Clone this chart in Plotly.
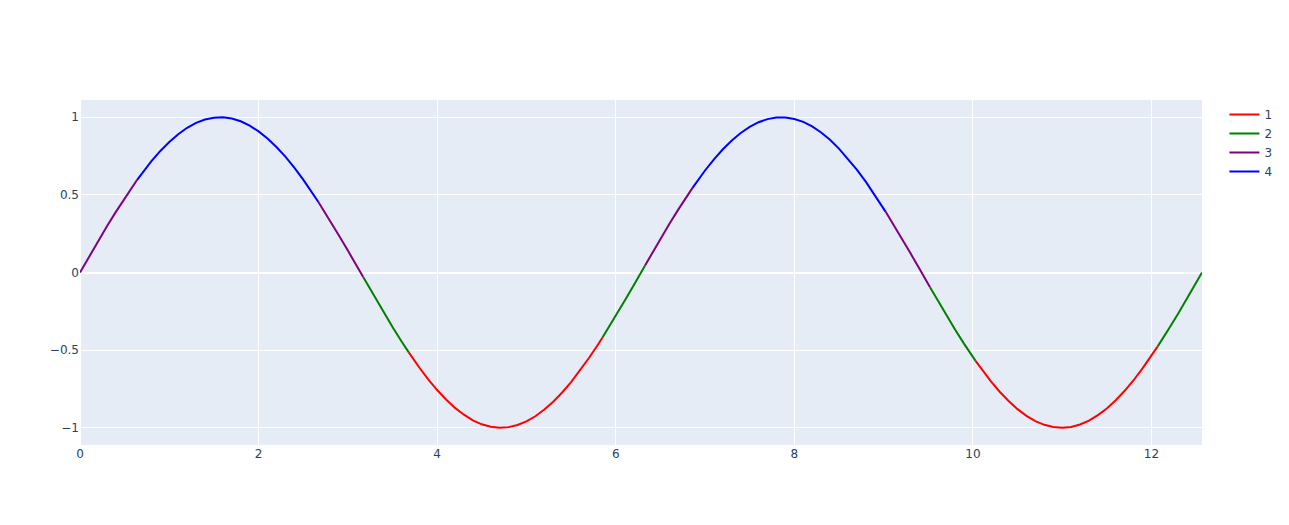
import plotly.graph_objects as go

x_vals = [0.0, 0.1, 0.2, 0.3, 0.4, 0.5, 0.6, 0.64, 0.7, 0.8, 0.9, 1.0, 1.1, 1.2, 1.3, 1.4,
          1.5, 1.6, 1.7, 1.8, 1.9, 2.0, 2.1, 2.2, 2.3, 2.4, 2.5, 2.6, 2.67, 2.7, 2.8, 2.9,
          3.0, 3.1, 3.17, 3.2, 3.3, 3.4, 3.5, 3.6, 3.68, 3.7, 3.8, 3.9, 4.0, 4.1, 4.2, 4.3,
          4.4, 4.5, 4.6, 4.7, 4.8, 4.9, 5.0, 5.1, 5.2, 5.3, 5.4, 5.5, 5.6, 5.7, 5.8, 5.85,
          5.9, 6.0, 6.1, 6.2, 6.3, 6.33, 6.4, 6.5, 6.6, 6.7, 6.8, 6.86, 6.9, 7.0, 7.1, 7.2,
          7.3, 7.4, 7.5, 7.6, 7.7, 7.8, 7.9, 8.0, 8.1, 8.2, 8.3, 8.4, 8.5, 8.6, 8.7, 8.8,
          8.9, 9.0, 9.02, 9.1, 9.2, 9.3, 9.4, 9.5, 9.52, 9.6, 9.7, 9.8, 9.9, 10.0, 10.03,
          10.1, 10.2, 10.3, 10.4, 10.5, 10.6, 10.7, 10.8, 10.9, 11.0, 11.1, 11.2, 11.3, 11.4,
          11.5, 11.6, 11.7, 11.8, 11.9, 12.0, 12.07, 12.1, 12.2, 12.3, 12.4, 12.5, 12.566]
y_vals = [0.0, 0.1, 0.199, 0.296, 0.389, 0.479, 0.565, 0.597, 0.644, 0.717, 0.783, 0.841,
          0.891, 0.932, 0.964, 0.985, 0.997, 1.0, 0.992, 0.974, 0.946, 0.909, 0.863, 0.808,
          0.746, 0.676, 0.598, 0.516, 0.454, 0.427, 0.335, 0.239, 0.141, 0.042, -0.028,
          -0.058, -0.158, -0.256, -0.351, -0.443, -0.513, -0.53, -0.612, -0.688, -0.757,
          -0.818, -0.872, -0.916, -0.952, -0.978, -0.994, -1.0, -0.996, -0.982, -0.959,
          -0.926, -0.883, -0.832, -0.773, -0.706, -0.631, -0.551, -0.465, -0.42, -0.374,
          -0.279, -0.182, -0.083, 0.017, 0.047, 0.117, 0.215, 0.312, 0.405, 0.494, 0.545,
          0.578, 0.657, 0.729, 0.794, 0.85, 0.899, 0.938, 0.968, 0.988, 0.999, 0.999, 0.989,
          0.97, 0.941, 0.902, 0.855, 0.798, 0.734, 0.663, 0.585, 0.501, 0.412, 0.394, 0.319,
          0.223, 0.125, 0.025, -0.075, -0.095, -0.174, -0.272, -0.367, -0.458, -0.544,
          -0.569, -0.625, -0.7, -0.768, -0.828, -0.88, -0.923, -0.957, -0.981, -0.995, -1.0,
          -0.995, -0.979, -0.954, -0.919, -0.876, -0.823, -0.762, -0.694, -0.618, -0.537,
          -0.476, -0.45, -0.358, -0.264, -0.166, -0.066, 0.0]

# Colour segments: category label and x-range of each segment
seg_labels = ["3", "4", "3", "2", "1", "2", "3", "4", "3", "2", "1", "2"]
seg_start = [0, 0.64, 2.67, 3.17, 3.68, 5.85, 6.33, 6.86, 9.02, 9.52, 10.03, 12.07]
seg_end = [0.64, 2.67, 3.17, 3.68, 5.85, 6.33, 6.86, 9.02, 9.52, 10.03, 12.07, 12.566]

categories = ["1", "2", "3", "4"]
colors = {"1": "red", "2": "green", "3": "purple", "4": "blue"}

fig = go.Figure()
for cat in categories:
    xs, ys = [], []
    for lab, s, e in zip(seg_labels, seg_start, seg_end):
        if lab != cat:
            continue
        if xs:
            xs.append(None)
            ys.append(None)
        for xv, yv in zip(x_vals, y_vals):
            if s - 1e-9 <= xv <= e + 1e-9:
                xs.append(xv)
                ys.append(yv)
    fig.add_trace(go.Scatter(x=xs, y=ys, mode="lines", name=cat,
                             line=dict(color=colors[cat], width=2),
                             connectgaps=False))

fig.update_layout(template="plotly", width=1289, height=525,
                  font=dict(family="DejaVu Sans"))
fig.write_html("out.html", config={"displayModeBar": False},
               post_script="document.body.style.margin='0';document.body.style.overflow='hidden';")
